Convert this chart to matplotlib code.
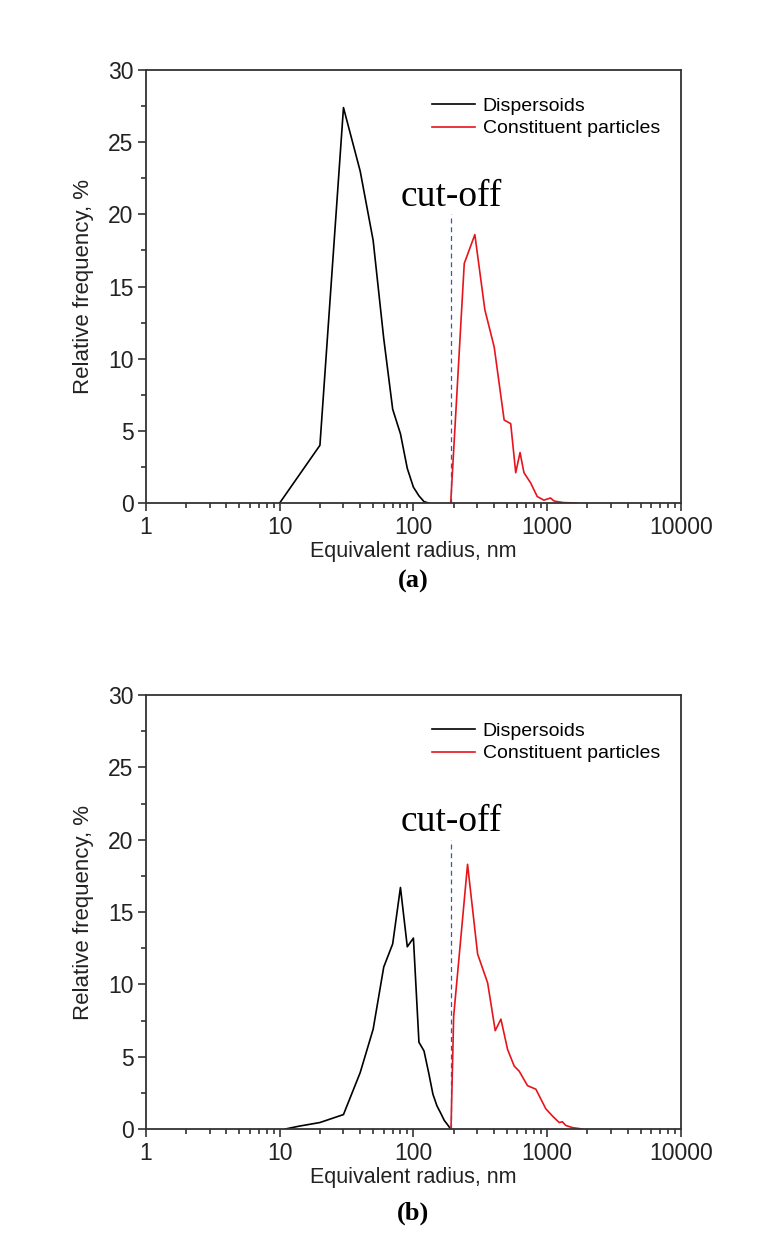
import matplotlib
matplotlib.use("Agg")
import matplotlib.pyplot as plt
from matplotlib.ticker import LogLocator, MultipleLocator, FixedFormatter, FixedLocator

matplotlib.rcParams.update({'font.family': 'Liberation Sans', 'font.size': 16})

# (a) size distributions
a_disp_r = [10, 20, 30, 40, 50, 60, 70, 80, 90, 100, 110, 120, 130]
a_disp_f = [0, 4.0, 27.4, 23.0, 18.2, 11.4, 6.5, 4.8, 2.4, 1.1, 0.5, 0.1, 0]
a_const_r = [190, 240, 288, 342, 402, 477, 534, 582, 627, 671, 752, 843, 945, 1060, 1122, 1187, 1331, 1671]
a_const_f = [0, 16.6, 18.6, 13.4, 10.8, 5.75, 5.5, 2.1, 3.5, 2.1, 1.4, 0.45, 0.2, 0.35, 0.15, 0.1, 0.03, 0]

# (b) size distributions
b_disp_r = [11, 14, 20, 30, 40, 50, 60, 70, 80, 90, 100, 110, 120, 130, 140, 150, 160, 170, 180, 190]
b_disp_f = [0, 0.2, 0.45, 1.0, 3.9, 6.9, 11.2, 12.8, 16.7, 12.6, 13.2, 6.0, 5.4, 3.9, 2.4, 1.6, 1.1, 0.6, 0.3, 0]
b_const_r = [191, 200, 254, 302, 359, 409, 451, 506, 567, 618, 713, 824, 872, 977, 1096, 1230, 1300, 1376, 1543, 1830]
b_const_f = [0, 7.8, 18.3, 12.1, 10.1, 6.8, 7.6, 5.5, 4.35, 4.0, 3.0, 2.75, 2.3, 1.4, 0.9, 0.45, 0.5, 0.25, 0.1, 0]

cutoff = 190
tick_vals = [1, 10, 100, 1000, 10000]
tick_labels = ['1', '10', '100', '1000', '10000']

fig = plt.figure(figsize=(7.72, 12.47), dpi=100)
ax1 = fig.add_axes([0.189, 0.5966, 0.693, 0.3472])
ax2 = fig.add_axes([0.189, 0.0946, 0.693, 0.3480])


def draw(ax, dr, df, cr, cf, panel, panel_y):
    ax.plot(dr, df, color='black', lw=1.2, label='Dispersoids')
    ax.plot(cr, cf, color='#e8141b', lw=1.2, label='Constituent particles')
    ax.plot([cutoff, cutoff], [0, 20], color='#3a5aa8', lw=0.9, ls=(0, (4, 3)))
    ax.text(80, 20.6, 'cut-off', family='Liberation Serif', fontsize=27)
    ax.set_xscale('log')
    ax.set_xlim(1, 10000)
    ax.set_ylim(0, 30)
    ax.xaxis.set_major_locator(FixedLocator(tick_vals))
    ax.xaxis.set_major_formatter(FixedFormatter(tick_labels))
    ax.xaxis.set_minor_locator(LogLocator(base=10, subs=range(2, 10)))
    ax.xaxis.set_minor_formatter(FixedFormatter([]))
    ax.yaxis.set_major_locator(MultipleLocator(5))
    ax.yaxis.set_minor_locator(MultipleLocator(2.5))
    ax.tick_params(which='major', direction='out', length=6, width=1.2, color='#333333',
                   labelsize=16.5, colors='#222222', pad=3)
    ax.tick_params(which='minor', direction='out', length=3.5, width=1.2, color='#333333')
    for s in ax.spines.values():
        s.set_linewidth(1.3)
        s.set_color('#333333')
    ax.set_xlabel('Equivalent radius, nm', labelpad=2, color='#222222', fontsize=15.5)
    ax.set_ylabel('Relative frequency, %', labelpad=10, color='#222222')
    ax.legend(loc='upper right', bbox_to_anchor=(0.975, 0.955), frameon=False, fontsize=14,
              handlelength=2.2, handletextpad=0.4, labelspacing=0.25, borderaxespad=0)
    fig.text(0.535, panel_y, panel, family='Liberation Serif', fontweight='bold',
             fontsize=19, ha='center', va='center')


draw(ax1, a_disp_r, a_disp_f, a_const_r, a_const_f, '(a)', 1 - 581 / 1247)
draw(ax2, b_disp_r, b_disp_f, b_const_r, b_const_f, '(b)', 1 - 1213 / 1247)

fig.savefig('out.png', dpi=100, facecolor='white')
